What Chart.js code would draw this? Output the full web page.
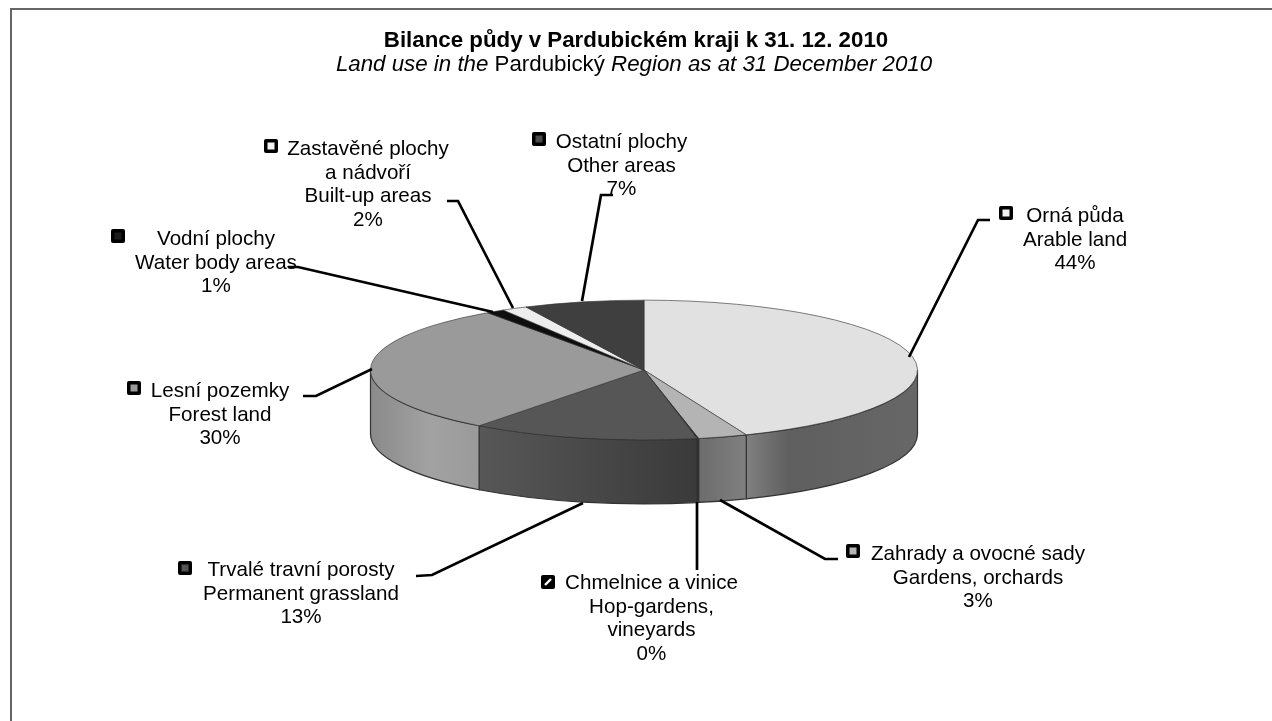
<!DOCTYPE html>
<html><head><meta charset="utf-8">
<style>html,body{margin:0;padding:0;background:#fff}canvas{display:block}</style>
<script src="https://cdn.jsdelivr.net/npm/chart.js@4/dist/chart.umd.min.js"></script>
</head><body><canvas id="c" width="1272" height="721"></canvas>
<script>
const categories = ["Orná půda / Arable land","Zahrady a ovocné sady / Gardens, orchards","Chmelnice a vinice / Hop-gardens, vineyards","Trvalé travní porosty / Permanent grassland","Lesní pozemky / Forest land","Vodní plochy / Water body areas","Zastavěné plochy a nádvoří / Built-up areas","Ostatní plochy / Other areas"];
const values = [43.9, 2.9, 0.1, 13.4, 30, 1.1, 1.5, 7.1];
const percentLabels = ["44%","3%","0%","13%","30%","1%","2%","7%"];
const topColors = ["#e1e1e1","#b4b4b4","#222222","#565656","#9a9a9a","#0e0e0e","#ededed","#3f3f3f"];
const sideStops = [
 [[0,'#808080'],[.25,'#5f5f5f'],[1,'#676767']],
 [[0,'#6c6c6c'],[1,'#808080']],
 [[0,'#222222'],[1,'#222222']],
 [[0,'#575757'],[1,'#3a3a3a']],
 [[0,'#8a8a8a'],[.55,'#a2a2a2'],[1,'#9a9a9a']]
];
const labelNames = [
 ["Orná půda","Arable land"],["Zahrady a ovocné sady","Gardens, orchards"],
 ["Chmelnice a vinice","Hop-gardens,","vineyards"],["Trvalé travní porosty","Permanent grassland"],
 ["Lesní pozemky","Forest land"],["Vodní plochy","Water body areas"],
 ["Zastavěné plochy","a nádvoří","Built-up areas"],["Ostatní plochy","Other areas"]];
const labelCenters = [1075,978,651.5,301,220,216,368,621.5];
const firstBaseline = [222,560,589,576,397,245,155,148];
const markers = [[1006,213,"#f0f0f0"],[853,551,"#b4b4b4"],[548,582,"hatch"],[185,568,"#565656"],[134,388,"#9a9a9a"],[118,236,"#1c1c1c"],[271,146,"#f4f4f4"],[539,139,"#4a4a4a"]];
const leaders = [
 [[990,220],[978,220],[909,357]],
 [[838,559],[825,559],[720,500]],
 [[697,570],[697,502]],
 [[416,576],[432,575],[583,503]],
 [[303,396],[316,396],[372,369]],
 [[288,267],[298,267],[493,312]],
 [[447,201],[458,201],[513,308]],
 [[613,195],[601,195],[582,301]]];
const squash = 70/274, depth = 64, cx = 644, cy = 370;

function ellY(r,a){return cy + r*Math.sin(a)*squash;}
const pie3d = {
 id:'pie3d',
 beforeDraw(chart){
  const c=chart.ctx; c.save();
  c.fillStyle='#fff'; c.fillRect(0,0,chart.width,chart.height);
  c.strokeStyle='#666'; c.lineWidth=2;
  c.beginPath(); c.moveTo(11,721); c.lineTo(11,9); c.lineTo(1272,9); c.stroke();
  c.restore();
 },
 beforeDatasetsDraw(chart){
  const c=chart.ctx, arcs=chart.getDatasetMeta(0).data;
  const r=arcs[0].outerRadius;
  c.save();
  arcs.forEach((arc,i)=>{
    const s=Math.max(arc.startAngle,0), e=Math.min(arc.endAngle,Math.PI);
    if(e<=s) return;
    const x0=cx+r*Math.cos(s), x1=cx+r*Math.cos(e);
    c.beginPath();
    c.moveTo(x0,ellY(r,s));
    c.ellipse(cx,cy,r,r*squash,0,s,e,false);
    c.lineTo(x1,ellY(r,e)+depth);
    c.ellipse(cx,cy+depth,r,r*squash,0,e,s,true);
    c.closePath();
    const g=c.createLinearGradient(i===0?x1:Math.min(x0,x1),0,i===0?cx+r:Math.max(x0,x1),0);
    sideStops[i].forEach(st=>g.addColorStop(st[0],st[1]));
    c.fillStyle=g; c.fill();
    c.strokeStyle='#333'; c.lineWidth=1.2; c.stroke();
  });
  c.restore();
  c.save();
  c.translate(cx,cy); c.scale(1,squash); c.translate(-cx,-cy);
 },
 afterDatasetsDraw(chart){
  const c=chart.ctx; c.restore();
  c.save();
  c.strokeStyle='#000'; c.lineWidth=2.7; c.lineJoin='miter';
  leaders.forEach(l=>{c.beginPath();l.forEach((p,i)=>i?c.lineTo(p[0],p[1]):c.moveTo(p[0],p[1]));c.stroke();});
  c.font='20.6px "Liberation Sans"'; c.fillStyle='#000'; c.textAlign='center'; c.textBaseline='alphabetic';
  labelNames.forEach((ls,i)=>{
    ls.concat(percentLabels[i]).forEach((t,j)=>c.fillText(t,labelCenters[i],Math.round(firstBaseline[i]+j*23.7)));
  });
  markers.forEach(m=>{
    c.fillStyle='#000'; c.beginPath(); c.roundRect(m[0]-7,m[1]-7,14,14,2); c.fill();
    if(m[2]==='hatch'){c.strokeStyle='#fff';c.lineWidth=2.4;c.beginPath();c.moveTo(m[0]-3,m[1]+3);c.lineTo(m[0]+3,m[1]-3);c.stroke();c.strokeStyle='#000';c.lineWidth=2.7;}
    else{c.fillStyle=m[2];c.fillRect(m[0]-3.5,m[1]-3.5,7,7);}
  });
  c.textAlign='center';
  c.font='bold 22.3px "Liberation Sans"'; c.fillStyle='#000';
  c.fillText('Bilance půdy v Pardubickém kraji k 31. 12. 2010',636,47);
  const parts=[['italic','Land use in the '],['normal','Pardubický '],['italic','Region as at 31 December 2010']];
  c.textAlign='left';
  let w=0; parts.forEach(p=>{c.font=p[0]+' 22.3px "Liberation Sans"';w+=c.measureText(p[1]).width;});
  let x=634-w/2; parts.forEach(p=>{c.font=p[0]+' 22.3px "Liberation Sans"';c.fillText(p[1],x,71);x+=c.measureText(p[1]).width;});
  c.restore();
 }
};
new Chart(document.getElementById('c'),{
 type:'pie',
 data:{labels:categories,datasets:[{data:values,backgroundColor:topColors,borderColor:'#333',borderWidth:1,borderAlign:'center'}]},
 plugins:[pie3d],
 options:{responsive:false,animation:false,
  layout:{padding:{left:370,right:354,top:96,bottom:77}},
  plugins:{legend:{display:false},tooltip:{enabled:false},title:{display:false}}}
});
</script></body></html>
